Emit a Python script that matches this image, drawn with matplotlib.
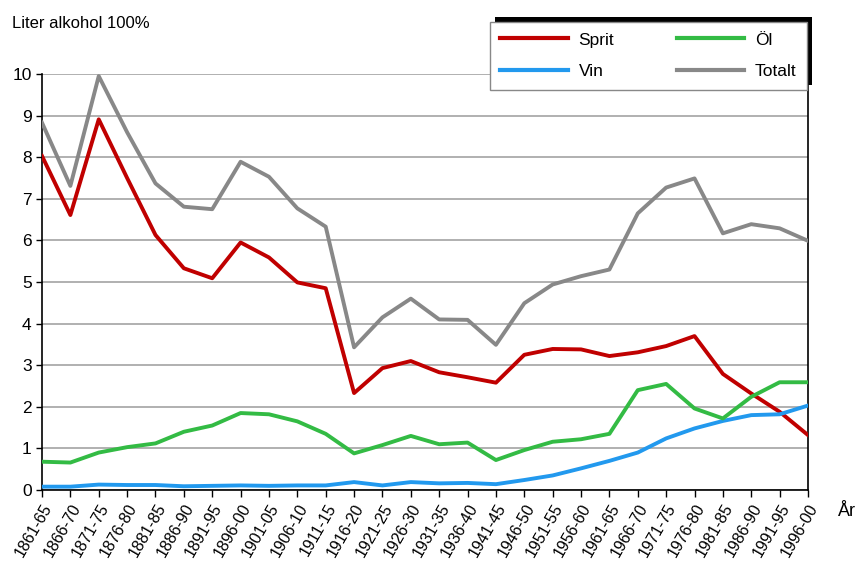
import matplotlib.pyplot as plt
from matplotlib.patches import Rectangle
from matplotlib.transforms import IdentityTransform

plt.rcParams['font.family'] = ['Liberation Sans', 'DejaVu Sans']

periods = [f"{y}-{str(y + 4)[-2:]}" for y in range(1861, 1997, 5)]

sprit = [8.03, 6.61, 8.91, 7.5, 6.13, 5.33, 5.09, 5.95, 5.59, 4.99,
         4.85, 2.33, 2.93, 3.1, 2.83, 2.71, 2.58, 3.25, 3.39, 3.38,
         3.22, 3.31, 3.46, 3.70, 2.79, 2.32, 1.88, 1.32]
vin = [0.08, 0.08, 0.13, 0.12, 0.12, 0.09, 0.10, 0.11, 0.10, 0.11,
       0.11, 0.19, 0.11, 0.19, 0.16, 0.17, 0.14, 0.24, 0.35, 0.52,
       0.70, 0.90, 1.24, 1.48, 1.66, 1.80, 1.82, 2.03]
ol = [0.68, 0.66, 0.90, 1.03, 1.12, 1.40, 1.55, 1.85, 1.82, 1.65,
      1.35, 0.88, 1.08, 1.30, 1.10, 1.14, 0.72, 0.96, 1.16, 1.22,
      1.35, 2.40, 2.55, 1.96, 1.72, 2.24, 2.59, 2.59]
totalt = [8.83, 7.31, 9.95, 8.6, 7.37, 6.81, 6.75, 7.89, 7.53, 6.77,
          6.33, 3.43, 4.15, 4.6, 4.1, 4.09, 3.49, 4.49, 4.94, 5.14,
          5.30, 6.65, 7.27, 7.49, 6.17, 6.39, 6.29, 5.99]

series = [
    ("Sprit", sprit, "#c00000"),
    ("Vin", vin, "#2299ee"),
    ("Öl", ol, "#33bb44"),
    ("Totalt", totalt, "#888888"),
]

fig = plt.figure(figsize=(8.61, 5.63), dpi=100)
ax = fig.add_axes([42 / 861, 1 - 490 / 563, (808 - 42) / 861, (490 - 74) / 563])

x = list(range(len(periods)))
for name, vals, col in series:
    ax.plot(x, vals, color=col, lw=2.8, label=name, solid_joinstyle='round', zorder=3)

ax.set_xlim(0, len(periods) - 1)
ax.set_ylim(0, 10)
ax.set_yticks(range(0, 11))
ax.set_xticks(x)
ax.set_xticklabels(periods, rotation=60, ha='right', va='top', rotation_mode='anchor', fontsize=11.5)
ax.tick_params(axis='y', labelsize=12.5, length=4, direction='out', width=1)
ax.tick_params(axis='x', length=5, direction='out', width=1, pad=3)
ax.grid(axis='y', color='#aaaaaa', lw=1.3, zorder=0)
ax.set_axisbelow(True)

for s in ['left', 'bottom', 'right']:
    ax.spines[s].set_color('black')
    ax.spines[s].set_linewidth(1.2)
ax.spines['top'].set_visible(False)

fig.text(12 / 861, 1 - 24 / 563, "Liter alkohol 100%", fontsize=12, va='center', ha='left')
fig.text(838 / 861, 1 - 512 / 563, "År", fontsize=13, va='center', ha='left')

leg = ax.legend(loc='upper left', bbox_to_anchor=(490 / 861, 1 - 22 / 563),
                bbox_transform=fig.transFigure, ncol=2, fontsize=12.5,
                handlelength=3.9, handletextpad=0.6, columnspacing=3.6,
                labelspacing=0.95, borderpad=0.6, borderaxespad=0,
                fancybox=False, framealpha=1)
leg.get_frame().set_edgecolor('#888888')
leg.get_frame().set_linewidth(1.0)
for line in leg.get_lines():
    line.set_linewidth(3)

# black offset shadow behind the legend box
fig.canvas.draw()
bb = leg.get_window_extent()
ax.add_patch(Rectangle((bb.x0 + 5, bb.y0 + 5), bb.width, bb.height, transform=IdentityTransform(),
                       facecolor='black', edgecolor='none', zorder=4.9, clip_on=False))

fig.savefig("out.png", dpi=100)
